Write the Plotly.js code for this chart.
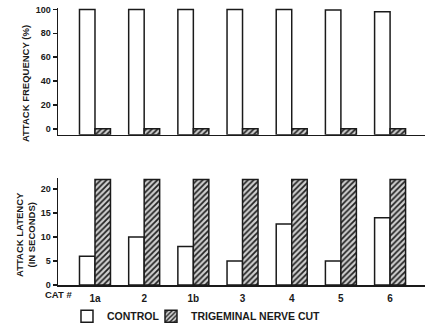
<!DOCTYPE html>
<html>
<head>
<meta charset="utf-8">
<script src="https://cdn.plot.ly/plotly-3.0.1.min.js"></script>
<style>html,body{margin:0;padding:0;background:#fff;}#chart{width:425px;height:331px;}</style>
</head>
<body>
<div id="chart"></div>
<script>
// ---- data ----
const cats = ['1a', '2', '1b', '3', '4', '5', '6'];
const freqControl = [100, 100, 100, 100, 100, 99.5, 98];
const freqNerveCut = [0, 0, 0, 0, 0, 0, 0];
const latControl = [6, 10, 8, 5, 12.7, 5, 14];
const latNerveCut = [22, 22, 22, 22, 22, 22, 22];
const freqTicks = [0, 20, 40, 60, 80, 100];
const latTicks = [0, 5, 10, 15, 20];

// ---- style ----
const FREQ_BASE = -5;
const INK = '#1a1a1a';
const FONT = 'Liberation Sans, Arial, sans-serif';
const controlMarker = {color: '#ffffff', line: {color: INK, width: 1.5}};
const cutMarker = {
  color: '#d0d0d0',
  line: {color: INK, width: 1.5},
  pattern: {shape: '/', fgcolor: '#222', bgcolor: '#d0d0d0', size: 4, solidity: 0.45}
};

const traces = [
  {type: 'bar', name: 'CONTROL', x: cats, y: freqControl.map(v => v - FREQ_BASE), base: FREQ_BASE,
   xaxis: 'x2', yaxis: 'y2', marker: controlMarker, legendgroup: 'c', showlegend: true, legend: 'legend'},
  {type: 'bar', name: 'TRIGEMINAL NERVE CUT', x: cats, y: freqNerveCut.map(v => v - FREQ_BASE), base: FREQ_BASE,
   xaxis: 'x2', yaxis: 'y2', marker: cutMarker, legendgroup: 't', showlegend: true, legend: 'legend2'},
  {type: 'bar', name: 'CONTROL', x: cats, y: latControl,
   xaxis: 'x', yaxis: 'y', marker: controlMarker, legendgroup: 'c', showlegend: false},
  {type: 'bar', name: 'TRIGEMINAL NERVE CUT', x: cats, y: latNerveCut,
   xaxis: 'x', yaxis: 'y', marker: cutMarker, legendgroup: 't', showlegend: false}
];

const tickFont = {family: FONT, size: 9, color: INK, weight: 'bold'};
const legendFont = {family: FONT, size: 10.5, color: INK, weight: 'bold'};
const xRange = [-0.752, 6.71];
const layout = {
  width: 425, height: 331,
  margin: {l: 58, r: 0, t: 8, b: 41},
  paper_bgcolor: '#fff', plot_bgcolor: '#fff',
  barmode: 'group', bargap: 0.37, bargroupgap: 0,
  showlegend: true,
  legend: {orientation: 'h', x: 0.0245, y: -0.113, xanchor: 'left', yanchor: 'middle', font: legendFont,
           bgcolor: 'rgba(0,0,0,0)'},
  legend2: {orientation: 'h', x: 0.2534, y: -0.113, xanchor: 'left', yanchor: 'middle', font: legendFont,
            bgcolor: 'rgba(0,0,0,0)'},
  xaxis: {domain: [0, 1], anchor: 'y', type: 'category', range: xRange,
          showline: true, linecolor: INK, linewidth: 1.5, ticks: '', showgrid: false, zeroline: false,
          ticklabelstandoff: 3,
          tickfont: {family: FONT, size: 10, color: INK, weight: 'bold'}},
  xaxis2: {domain: [0, 1], anchor: 'y2', type: 'category', range: xRange,
           showline: true, linecolor: INK, linewidth: 1.5, ticks: '', showgrid: false, zeroline: false,
           showticklabels: false},
  yaxis: {domain: [0, 0.3876], anchor: 'x', range: [0, 22.37], tickvals: latTicks,
          showline: true, linecolor: INK, linewidth: 1.5, ticks: 'outside', ticklen: 4, tickwidth: 1.5,
          tickcolor: INK, showgrid: false, zeroline: false, tickfont: tickFont},
  yaxis2: {domain: [0.5426, 1], anchor: 'x2', range: [-4.94, 101.2], tickvals: freqTicks,
           showline: true, linecolor: INK, linewidth: 1.5, ticks: 'outside', ticklen: 4, tickwidth: 1.5,
           tickcolor: INK, showgrid: false, zeroline: false, tickfont: tickFont},
  annotations: [
    {text: 'ATTACK FREQUENCY (%)', xref: 'paper', yref: 'paper', x: -0.09, y: 0.7287,
     xanchor: 'center', yanchor: 'middle', textangle: -90, showarrow: false,
     font: {family: FONT, size: 9.5, color: INK, weight: 'bold'}},
    {text: 'ATTACK LATENCY<br>(IN SECONDS)', xref: 'paper', yref: 'paper', x: -0.09, y: 0.184,
     xanchor: 'center', yanchor: 'middle', textangle: -90, showarrow: false,
     font: {family: FONT, size: 9.5, color: INK, weight: 'bold'}},
    {text: 'CAT #', xref: 'paper', yref: 'paper', x: 0.001, y: -0.036,
     xanchor: 'center', yanchor: 'middle', showarrow: false,
     font: {family: FONT, size: 9.5, color: INK, weight: 'bold'}}
  ]
};

Plotly.newPlot('chart', traces, layout, {displayModeBar: false, staticPlot: true});
</script>
</body>
</html>
